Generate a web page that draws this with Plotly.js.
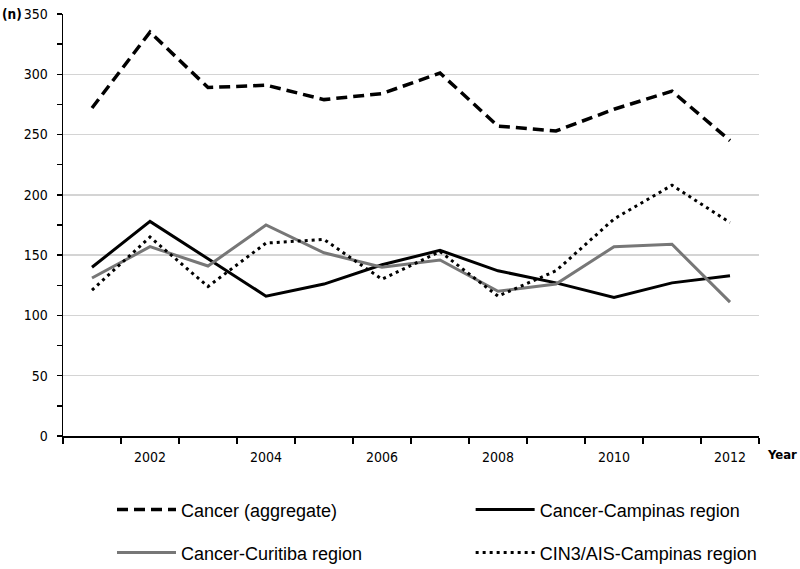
<!DOCTYPE html>
<html>
<head>
<meta charset="utf-8">
<script src="https://cdn.plot.ly/plotly-3.0.1.min.js"></script>
<style>html,body{margin:0;padding:0;background:#fff;}#chart{width:800px;height:569px;}</style>
</head>
<body>
<div id="chart"></div>
<script>
// ---- data ----
const years = [2001, 2002, 2003, 2004, 2005, 2006, 2007, 2008, 2009, 2010, 2011, 2012];
const cancerAggregate = [272, 335, 289, 291, 279, 284, 301, 257, 253, 271, 286, 245];
const cancerCampinas = [140, 178, 147, 116, 126, 142, 154, 137, 127, 115, 127, 133];
const cancerCuritiba = [131, 157, 141, 175, 152, 140, 146, 120, 126, 157, 159, 111];
const cin3Campinas = [121, 165, 124, 160, 163, 130, 153, 116, 137, 180, 208, 177];
const tickYears = [2002, 2004, 2006, 2008, 2010, 2012];
const tickLabels = ['2002', '2004', '2006', '2008', '2010', '2012'];
const seriesNames = ['Cancer (aggregate)', 'Cancer-Campinas region', 'Cancer-Curitiba region', 'CIN3/AIS-Campinas region'];

const boundaries = [];
for (let i = 0; i <= years.length; i++) boundaries.push(years[0] - 0.5 + i);

const tickFont = {family: 'DejaVu Sans Condensed, DejaVu Sans, sans-serif', size: 14, color: '#000'};
const legFont = {family: 'Liberation Sans Narrow, Arial Narrow, Liberation Sans, sans-serif', size: 18, color: '#000'};

const traces = [
  {x: years, y: cancerAggregate, name: seriesNames[0], mode: 'lines', legend: 'legend',
   line: {color: '#000', width: 3.5, dash: '11px,6px'}},
  {x: years, y: cancerCampinas, name: seriesNames[1], mode: 'lines', legend: 'legend2',
   line: {color: '#000', width: 3}},
  {x: years, y: cancerCuritiba, name: seriesNames[2], mode: 'lines', legend: 'legend3',
   line: {color: '#777777', width: 3}},
  {x: years, y: cin3Campinas, name: seriesNames[3], mode: 'lines', legend: 'legend4',
   line: {color: '#000', width: 3, dash: '3px,4px'}}
];

const legendCommon = {
  orientation: 'h', xanchor: 'left', yanchor: 'middle', itemwidth: 59,
  font: legFont, bgcolor: 'rgba(0,0,0,0)', traceorder: 'normal'
};
const col1 = 0.0704, col2 = 0.5857, row1 = -0.175, row2 = -0.277;

const layout = {
  width: 800, height: 569,
  margin: {l: 63, r: 41, t: 14, b: 133, autoexpand: false},
  paper_bgcolor: '#fff', plot_bgcolor: '#fff',
  showlegend: true,
  legend: Object.assign({}, legendCommon, {x: col1, y: row1}),
  legend2: Object.assign({}, legendCommon, {x: col2, y: row1}),
  legend3: Object.assign({}, legendCommon, {x: col1, y: row2}),
  legend4: Object.assign({}, legendCommon, {x: col2, y: row2}),
  xaxis: {
    range: [2000.5, 2012.5], tickmode: 'array', tickvals: tickYears, ticktext: tickLabels,
    ticks: 'outside', ticklen: 8, tickcolor: 'rgba(0,0,0,0)',
    showgrid: false, zeroline: false, showline: true, linecolor: '#000', linewidth: 1.5,
    tickfont: tickFont, automargin: false,
    minor: {tickmode: 'array', tickvals: boundaries, ticks: 'outside', ticklen: 6, tickcolor: '#000', tickwidth: 1.5, showgrid: false}
  },
  yaxis: {
    range: [0, 350], dtick: 50, tick0: 0,
    ticks: 'outside', ticklen: 5, tickcolor: '#000', tickwidth: 1.5, ticklabelstandoff: 6,
    showgrid: true, gridcolor: '#d4d4d4', gridwidth: 1.5,
    zeroline: false, showline: true, linecolor: '#000', linewidth: 1.5,
    tickfont: tickFont, automargin: false,
    minor: {dtick: 25, ticks: 'outside', ticklen: 5, tickcolor: '#000', tickwidth: 1.5, showgrid: false}
  },
  annotations: [
    {text: '<b>(n)</b>', xref: 'paper', yref: 'y', x: -0.091, y: 350, xanchor: 'left', yanchor: 'middle',
     showarrow: false, font: {family: 'DejaVu Sans Condensed, DejaVu Sans, sans-serif', size: 13.5, color: '#000'}},
    {text: '<b>Year</b>', xref: 'paper', yref: 'paper', x: 1.009, y: -0.043, xanchor: 'left', yanchor: 'middle',
     showarrow: false, font: {family: 'DejaVu Sans Condensed, DejaVu Sans, sans-serif', size: 13, color: '#000'}}
  ]
};

Plotly.newPlot('chart', traces, layout, {displayModeBar: false, staticPlot: true});
</script>
</body>
</html>
